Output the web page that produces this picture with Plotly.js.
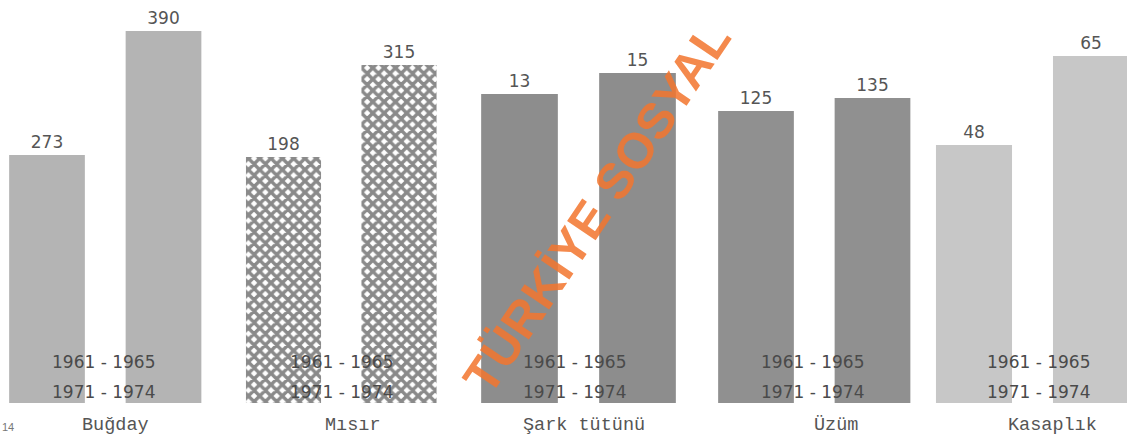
<!DOCTYPE html>
<html>
<head>
<meta charset="utf-8">
<script src="https://cdn.plot.ly/plotly-3.0.1.min.js"></script>
<style>html,body{margin:0;padding:0;background:#fff;}#chart{width:1127px;height:435px;}</style>
</head>
<body>
<div id="chart"></div>
<script>
// ---- data ----
const categories = ['Buğday', 'Mısır', 'Şark tütünü', 'Üzüm', 'Kasaplık'];
const periods = ['1961 - 1965', '1971 - 1974'];
const values1961 = [273, 198, 13, 125, 48];
const values1971 = [390, 315, 15, 135, 65];

// ---- layout / style (each group drawn on its own value scale, as in the original) ----
const W = 1127, H = 435, MB = 32;
const plotH = H - MB;
const firstBarPx = [47, 283.5, 519.5, 756, 974];
const pitchPx = [116.5, 115.5, 118, 116.5, 117];
const yRanges = [[39, 419.3], [-114.9, 397.6], [-16.43, 21.95], [-99.6, 210.4], [-1.28, 75.7]];
const barColors = ['#b4b4b4', '#8f8f8f', '#8d8d8d', '#909090', '#c7c7c7'];
const nameShift = [10, 12, 5, 22, 20];
const periodShift = [-2, 0, -4, -2, 6];

const traces = [];
const layout = {
  width: W, height: H,
  margin: {l: 0, r: 0, t: 0, b: MB, pad: 0},
  paper_bgcolor: '#ffffff', plot_bgcolor: 'rgba(0,0,0,0)',
  showlegend: false, barmode: 'group',
  annotations: []
};

categories.forEach((cat, i) => {
  const n = i + 1;
  const xa = n === 1 ? 'x' : 'x' + n;
  const ya = n === 1 ? 'y' : 'y' + n;
  const c0 = firstBarPx[i], u = pitchPx[i];
  const a = Math.max(0, c0 - 0.5 * u), b = Math.min(W, c0 + 1.5 * u);
  const xKey = n === 1 ? 'xaxis' : 'xaxis' + n;
  const yKey = n === 1 ? 'yaxis' : 'yaxis' + n;
  layout[xKey] = {
    domain: [a / W, b / W], anchor: ya, type: 'category',
    range: [(a - c0) / u, (b - c0) / u],
    visible: false, fixedrange: true
  };
  layout[yKey] = {
    domain: [0, 1], anchor: xa, range: yRanges[i],
    visible: false, fixedrange: true
  };
  const marker = {color: barColors[i], line: {width: 0}};
  if (i === 1) {
    marker.color = '#8a8a8a';
    marker.pattern = {shape: 'x', fgcolor: '#8a8a8a', bgcolor: '#ffffff', size: 8, solidity: 0.68};
  }
  const floor = yRanges[i][0];
  const vals = [values1961[i], values1971[i]];
  traces.push({
    type: 'bar', xaxis: xa, yaxis: ya,
    x: periods,
    // bar drawn from the bottom of this group's scale up to the value
    base: floor, y: vals.map(v => v - floor),
    width: 0.65,
    marker: marker,
    text: vals.map(String),
    textposition: 'outside', cliponaxis: false,
    textfont: {family: 'DejaVu Sans', size: 17, color: '#555555'},
    hoverinfo: 'skip'
  });
  // period labels across the pair of bars
  periods.forEach((p, k) => {
    layout.annotations.push({
      xref: xa, yref: 'paper', x: 0.5, y: k === 0 ? (plotH - 362) / plotH : (plotH - 392) / plotH,
      xshift: periodShift[i],
      text: p, showarrow: false, xanchor: 'center', yanchor: 'middle',
      font: {family: 'DejaVu Sans', size: 17, color: '#4a4a4a'}
    });
  });
  // category name
  layout.annotations.push({
    xref: xa, yref: 'paper', x: 0.5, y: 0, yshift: -22, xshift: nameShift[i],
    text: cat, showarrow: false, xanchor: 'center', yanchor: 'middle',
    font: {family: 'Liberation Mono', size: 18.5, color: '#555555'}
  });
});

// watermark
layout.annotations.push({
  xref: 'paper', yref: 'paper', x: 597 / W, y: (plotH - 208) / plotH,
  text: 'TÜRKİYE SOSYAL', showarrow: false, textangle: -56,
  xanchor: 'center', yanchor: 'middle',
  font: {family: 'Liberation Sans', size: 50, weight: 'bold', color: 'rgba(242,118,46,0.86)'}
});
// page number at the bottom-left edge
layout.annotations.push({
  xref: 'paper', yref: 'paper', x: 0, y: 0, yshift: -MB, xanchor: 'left', yanchor: 'bottom',
  text: '14', showarrow: false,
  font: {family: 'Liberation Sans', size: 11, color: '#777777'}
});

Plotly.newPlot('chart', traces, layout, {displayModeBar: false, staticPlot: true});
</script>
</body>
</html>
